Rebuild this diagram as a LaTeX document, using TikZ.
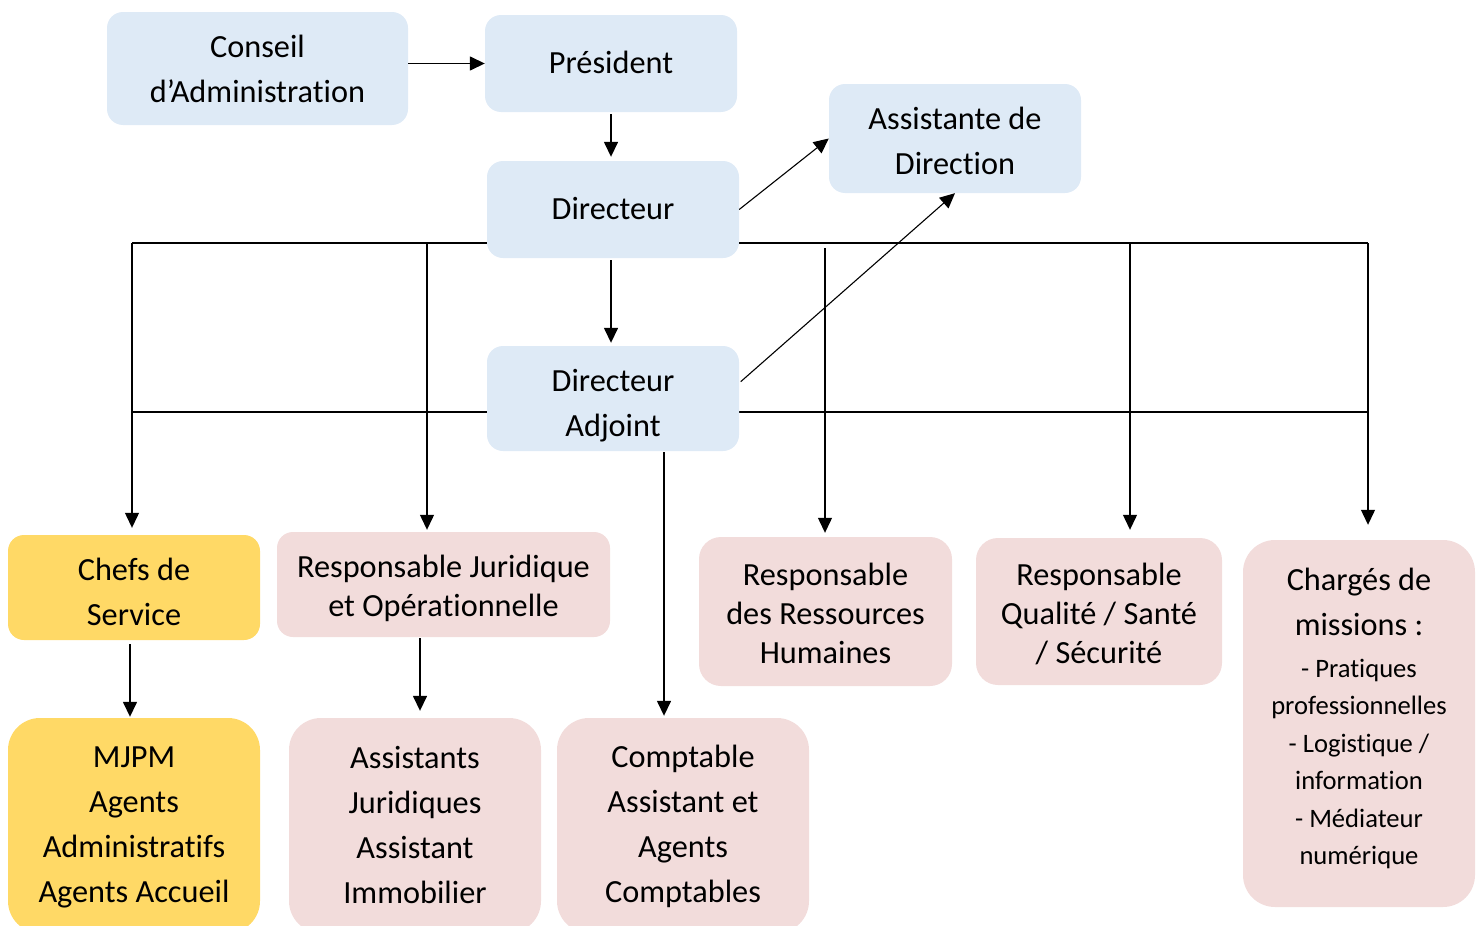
\documentclass[tikz,border=0pt]{standalone}
\usepackage{fontspec}
\setmainfont{Carlito}[Ligatures=NoCommon]
\usetikzlibrary{arrows.meta,calc}
\pgfdeclarelayer{background}
\pgfsetlayers{background,main}
\definecolor{bluebox}{HTML}{DEEAF6}
\definecolor{yellowbox}{HTML}{FFD966}
\definecolor{pinkbox}{HTML}{F2DCDB}
\newcommand{\smallf}{\fontsize{26.6}{37.5}\selectfont}
\tikzset{
  box/.style={rectangle, inner sep=0pt, rounded corners=16pt},
  blue/.style={box, fill=bluebox},
  yel/.style={box, fill=yellowbox},
  pink/.style={box, fill=pinkbox},
  txt/.style={inner sep=0pt, align=center, font=\fontsize{32.3}{45}\selectfont},
  arr/.style={line width=1.5pt, -{Triangle[length=15pt,width=14pt]}},
  grid/.style={line width=1.2pt}
}
\begin{document}
\begin{tikzpicture}[x=1pt,y=-1pt]
\useasboundingbox (0,0) rectangle (1481,926);
\clip (0,0) rectangle (1481,926);
% boxes
\node[blue, minimum width=301pt, minimum height=113pt] (conseil) at (257.5,68.5) {};
\node[blue, minimum width=252pt, minimum height=97pt] (pres) at (611,63.5) {};
\node[blue, minimum width=252pt, minimum height=97pt] (dir) at (613,209.5) {};
\node[blue, minimum width=252pt, minimum height=109pt] (assist) at (955,138.5) {};
\node[blue, minimum width=252pt, minimum height=105pt] (adj) at (613,398.5) {};
\node[yel, minimum width=252pt, minimum height=105pt] (chefs) at (134,587.5) {};
\node[pink, minimum width=333pt, minimum height=105pt] (rj) at (443.5,584.5) {};
\node[pink, minimum width=253pt, minimum height=149pt, rounded corners=22pt] (rh) at (825.5,611.5) {};
\node[pink, minimum width=246pt, minimum height=147pt, rounded corners=22pt] (qual) at (1099,611.5) {};
\node[pink, minimum width=232pt, minimum height=367pt, rounded corners=32pt] (charg) at (1359,723.5) {};
\node[yel, minimum width=252pt, minimum height=215pt, rounded corners=32pt] (mjpm) at (134,825.5) {};
\node[pink, minimum width=252pt, minimum height=215pt, rounded corners=32pt] (asst) at (415,825.5) {};
\node[pink, minimum width=252pt, minimum height=215pt, rounded corners=32pt] (compt) at (683,825.5) {};
% texts
\node[txt] (conseilT) at (conseil |- 0,68.5) {Conseil\\d’Administration};
\node[txt] (presT) at (pres |- 0,62.5) {Président};
\node[txt] (dirT) at (dir |- 0,208.5) {Directeur};
\node[txt] (assistT) at (assist |- 0,140.5) {Assistante de\\Direction};
\node[txt] (adjT) at (adj |- 0,405.5) {Directeur\\Adjoint};
\node[txt] (chefsT) at (chefs |- 0,591.5) {Chefs de\\Service};
\node[txt] (rjT) at (rj |- 0,588.5) {Responsable Juridique\\[-6pt]et Opérationnelle};
\node[txt] (rhT) at (rh |- 0,613.5) {Responsable\\[-6pt]des Ressources\\[-6pt]Humaines};
\node[txt] (qualT) at (qual |- 0,613.5) {Responsable\\[-6pt]Qualité / Santé\\[-6pt]/ Sécurité};
\node[txt] (chargT) at (charg |- 0,718.5) {Chargés de\\missions :\\[-3pt]{\smallf - Pratiques}\\[-7.5pt]{\smallf professionnelles}\\[-7.5pt]{\smallf - Logistique /}\\[-7.5pt]{\smallf information}\\[-7.5pt]{\smallf - Médiateur}\\[-7.5pt]{\smallf numérique}};
\node[txt] (mjpmT) at (mjpm |- 0,827.5) {MJPM\\Agents\\Administratifs\\Agents Accueil};
\node[txt] (asstT) at (asst |- 0,824.5) {Assistants\\Juridiques\\Assistant\\Immobilier};
\node[txt] (comptT) at (compt |- 0,826.5) {Comptable\\Assistant et\\Agents\\Comptables};
% grid coordinates
\coordinate (tl) at (132,243);
\coordinate (tr) at (1368,243);
\coordinate (bl) at (132,412);
\coordinate (br) at (1367,412);
\coordinate (t2) at (427,243);
\coordinate (t3) at (825,248);
\coordinate (t4) at (1130,243);
\begin{pgfonlayer}{background}
\draw[grid] (tl) -- (tr);
\draw[grid] (bl) -- (br);
\end{pgfonlayer}
% connectors
\draw[arr] (conseil.east |- pres.west) -- (pres.west);
\draw[arr, shorten >=4pt, shorten <=2pt] (pres.south) -- (pres.south |- dir.north);
\draw[arr, shorten >=3pt, shorten <=2pt] (pres.south |- dir.south) -- (pres.south |- adj.north);
\draw[arr, line width=1.1pt] (dir.east) -- (assist.west);
\draw[arr, line width=1.1pt, shorten <=2pt] (adj.7) -- (assist.south);
\draw[arr, grid, shorten >=7pt] (tl) -- (tl |- chefs.north);
\draw[arr, grid, shorten >=2pt] (t2) -- (t2 |- rj.north);
\draw[arr, grid, shorten >=4pt] (t3) -- (t3 |- rh.north);
\draw[arr, grid, shorten >=8pt] (t4) -- (t4 |- qual.north);
\draw[arr, grid, shorten >=15pt] (tr) -- (tr |- charg.north);
\draw[arr, shorten <=1pt, shorten >=2pt] ([xshift=51pt]adj.south) -- ([xshift=51pt]adj.south |- compt.north);
\draw[arr, shorten <=4pt, shorten >=1pt] ([xshift=-4pt]chefs.south) -- ([xshift=-4pt]chefs.south |- mjpm.north);
\draw[arr, shorten <=1pt, shorten >=7pt] ([xshift=-23.5pt]rj.south) -- ([xshift=-23.5pt]rj.south |- asst.north);
\end{tikzpicture}
\end{document}
